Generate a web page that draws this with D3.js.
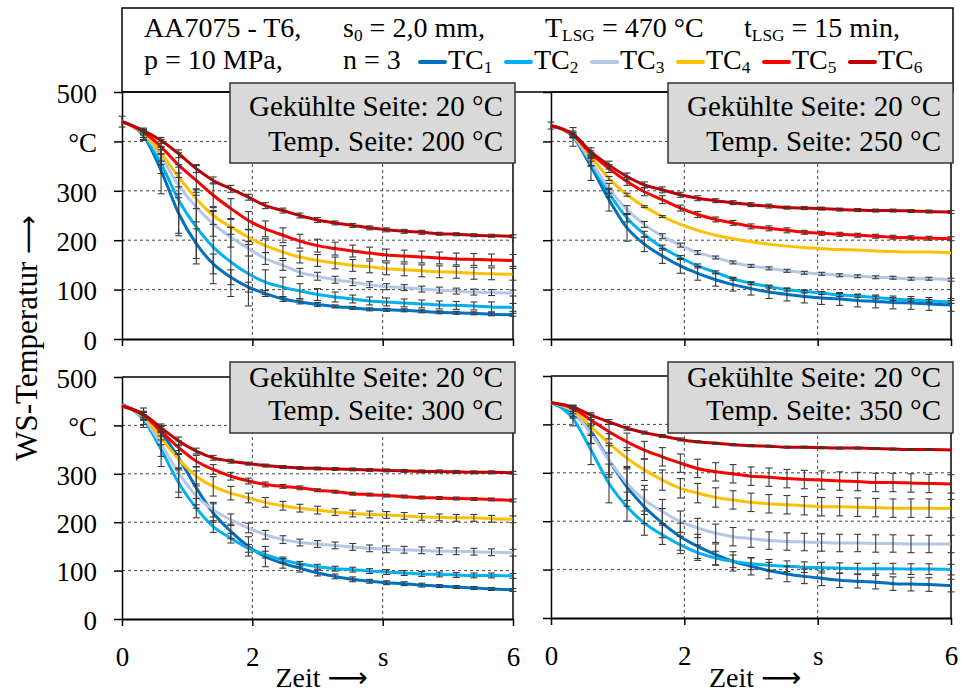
<!DOCTYPE html>
<html>
<head>
<meta charset="utf-8">
<script src="https://cdn.jsdelivr.net/npm/d3@7"></script>
<style>
  body { margin: 0; background: #fff; }
  svg { display: block; }
  text { font-family: "Liberation Serif", "DejaVu Serif", serif; fill: #000; }
</style>
</head>
<body>
<svg id="chart" width="963" height="693"></svg>
<script>
// Measurement times (s) shared by all thermocouple series
const times = [0, 0.33, 0.60, 0.87, 1.14, 1.40, 1.67, 1.94, 2.20, 2.47, 2.73, 3.00,
               3.27, 3.54, 3.80, 4.06, 4.33, 4.60, 4.87, 5.13, 5.40, 5.67, 6.00];

const seriesNames = ["TC1", "TC2", "TC3", "TC4", "TC5", "TC6"];
const seriesColors = ["#0070c0", "#00b0f0", "#b4c7e7", "#ffc000", "#ff0000", "#c00000"];

// Temperature of the tempered side for each panel (°C)
const tempSides = [200, 250, 300, 350];

const yTickValues = [0, 100, 200, 300, 400, 500];
const yTickLabels = ["0", "100", "200", "300", "°C", "500"];
const xTickValues = [0, 2, 4, 6];
const xTickLabels = ["0", "2", "s", "6"];

// Mean sheet temperatures (°C), one row per thermocouple TC1..TC6
const mean200 = [
  [440, 412, 341, 254, 193, 152, 125, 105, 92, 81, 75, 70, 66, 63, 60, 59, 58, 56, 54, 53, 52, 50, 49],
  [440, 412, 355, 281, 227, 186, 156, 132, 115, 105, 97, 90, 85, 81, 77, 75, 73, 71, 69, 68, 67, 65, 64],
  [440, 416, 368, 311, 267, 233, 206, 183, 163, 149, 135, 127, 120, 115, 110, 106, 104, 101, 99, 97, 95, 94, 93],
  [440, 416, 375, 328, 284, 250, 227, 206, 189, 176, 166, 159, 154, 149, 146, 142, 140, 138, 136, 135, 133, 132, 131],
  [440, 419, 389, 352, 321, 291, 264, 240, 223, 210, 198, 189, 183, 178, 174, 170, 168, 166, 164, 162, 161, 160, 159],
  [440, 422, 402, 375, 345, 321, 304, 287, 270, 260, 250, 241, 235, 230, 225, 221, 218, 216, 213, 212, 210, 209, 208]
];
const err200 = [
  [0, 8, 47, 40, 30, 20, 15, 10, 6, 5, 4, 4, 3, 3, 3, 3, 3, 3, 3, 3, 3, 3, 3],
  [0, 10, 20, 72, 75, 74, 70, 65, 25, 20, 15, 12, 10, 8, 8, 8, 8, 8, 8, 8, 8, 10, 8],
  [0, 8, 15, 25, 30, 25, 20, 15, 12, 10, 8, 8, 7, 7, 6, 6, 6, 6, 6, 6, 6, 6, 6],
  [0, 8, 15, 20, 20, 18, 15, 15, 14, 13, 12, 12, 12, 12, 12, 12, 12, 12, 12, 12, 12, 12, 12],
  [0, 6, 15, 25, 30, 25, 20, 18, 16, 15, 14, 13, 13, 12, 12, 12, 12, 12, 12, 12, 12, 12, 12],
  [11, 5, 6, 8, 8, 7, 7, 6, 6, 5, 5, 5, 4, 4, 4, 4, 4, 4, 3, 3, 3, 3, 3]
];

const mean250 = [
  [432, 409, 349, 282, 225, 192, 168, 148, 133, 120, 110, 102, 95, 90, 86, 83, 81, 78, 76, 74, 73, 71, 69],
  [432, 410, 355, 295, 245, 212, 185, 165, 148, 135, 122, 113, 106, 100, 96, 93, 89, 87, 84, 81, 79, 77, 75],
  [432, 411, 359, 305, 262, 232, 208, 190, 175, 165, 155, 148, 143, 138, 134, 132, 129, 127, 125, 124, 122, 122, 120],
  [432, 412, 369, 325, 292, 268, 248, 232, 220, 210, 203, 197, 192, 188, 185, 183, 181, 180, 178, 177, 176, 176, 174],
  [432, 413, 375, 345, 319, 298, 282, 265, 252, 242, 235, 228, 224, 220, 216, 214, 212, 210, 208, 206, 205, 204, 203],
  [432, 415, 379, 352, 329, 312, 302, 292, 285, 280, 276, 272, 269, 266, 265, 264, 262, 261, 260, 260, 259, 258, 257]
];
const err250 = [
  [0, 19, 28, 23, 27, 15, 15, 15, 14, 13, 13, 13, 13, 13, 13, 13, 13, 13, 13, 13, 13, 13, 13],
  [0, 3, 5, 8, 8, 6, 5, 4, 4, 3, 3, 3, 3, 3, 3, 3, 3, 3, 3, 3, 3, 3, 3],
  [0, 3, 8, 10, 8, 6, 5, 4, 4, 3, 3, 3, 3, 3, 3, 3, 3, 3, 3, 3, 3, 3, 3],
  [0, 3, 4, 4, 3, 2, 2, 0, 0, 0, 0, 0, 0, 0, 0, 0, 0, 0, 0, 0, 0, 0, 0],
  [0, 5, 6, 8, 8, 8, 8, 6, 6, 5, 5, 5, 5, 5, 4, 4, 4, 4, 4, 4, 4, 4, 4],
  [7, 6, 8, 8, 7, 6, 6, 5, 5, 4, 4, 4, 4, 3, 3, 3, 3, 3, 3, 3, 3, 3, 3]
];

const mean300 = [
  [444, 419, 385, 333, 271, 219, 181, 150, 129, 115, 105, 95, 88, 82, 78, 75, 73, 70, 68, 66, 64, 62, 60],
  [442, 412, 350, 281, 229, 191, 167, 146, 133, 122, 114, 108, 104, 102, 99, 97, 95, 93, 92, 91, 90, 90, 89],
  [442, 416, 361, 302, 254, 226, 205, 188, 174, 164, 158, 155, 152, 149, 146, 144, 143, 142, 140, 140, 139, 138, 137],
  [440, 419, 374, 330, 295, 274, 260, 250, 241, 234, 229, 225, 221, 218, 216, 215, 213, 211, 210, 209, 209, 207, 206],
  [440, 421, 388, 354, 326, 309, 295, 285, 278, 274, 271, 266, 263, 259, 257, 255, 253, 251, 250, 249, 248, 247, 245],
  [440, 423, 395, 368, 347, 333, 326, 321, 317, 314, 312, 311, 310, 309, 308, 307, 306, 305, 305, 304, 303, 303, 302]
];
const err300 = [
  [0, 8, 15, 25, 35, 19, 15, 20, 21, 10, 8, 6, 5, 5, 4, 4, 4, 4, 3, 3, 3, 3, 3],
  [0, 10, 35, 30, 20, 12, 10, 8, 7, 6, 5, 5, 5, 5, 5, 5, 5, 5, 5, 5, 5, 5, 5],
  [0, 20, 25, 40, 25, 15, 12, 10, 9, 8, 7, 7, 7, 7, 7, 7, 7, 7, 7, 7, 7, 7, 7],
  [0, 8, 14, 18, 20, 20, 14, 10, 10, 9, 8, 8, 7, 7, 7, 7, 7, 7, 7, 7, 7, 7, 7],
  [0, 8, 10, 14, 12, 10, 8, 6, 5, 4, 4, 3, 3, 3, 3, 3, 3, 3, 3, 3, 3, 3, 3],
  [0, 6, 8, 8, 6, 5, 4, 3, 3, 3, 3, 3, 3, 3, 3, 3, 3, 3, 3, 3, 3, 3, 3]
];

const mean350 = [
  [445, 423, 385, 326, 271, 230, 196, 168, 148, 131, 117, 107, 98, 91, 86, 82, 78, 76, 74, 71, 70, 69, 67],
  [445, 412, 347, 278, 230, 196, 172, 151, 135, 124, 117, 112, 109, 107, 105, 104, 103, 102, 102, 102, 101, 101, 100],
  [445, 426, 381, 326, 278, 244, 220, 199, 186, 175, 168, 164, 160, 158, 157, 156, 155, 155, 154, 154, 153, 153, 153],
  [445, 430, 395, 361, 330, 306, 285, 268, 258, 249, 244, 239, 236, 234, 232, 230, 230, 229, 228, 227, 227, 227, 226],
  [445, 433, 409, 385, 364, 347, 333, 320, 309, 302, 298, 293, 291, 288, 286, 285, 283, 282, 280, 280, 279, 278, 277],
  [445, 436, 419, 405, 392, 383, 376, 369, 364, 361, 358, 356, 355, 353, 353, 352, 351, 351, 350, 349, 348, 348, 347]
];
const err350 = [
  [0, 10, 25, 35, 40, 35, 30, 28, 25, 22, 20, 18, 17, 16, 15, 15, 15, 14, 14, 14, 14, 14, 13],
  [0, 15, 30, 40, 30, 25, 20, 18, 16, 14, 13, 12, 12, 11, 11, 11, 11, 11, 11, 11, 11, 11, 11],
  [0, 10, 20, 30, 35, 30, 25, 22, 20, 19, 19, 18, 18, 18, 18, 18, 18, 18, 18, 18, 18, 18, 18],
  [0, 8, 15, 20, 22, 22, 21, 20, 20, 20, 19, 19, 19, 19, 19, 19, 19, 19, 19, 19, 19, 19, 19],
  [0, 6, 12, 15, 18, 18, 19, 19, 19, 19, 19, 19, 19, 19, 19, 19, 19, 19, 19, 19, 19, 19, 19],
  [0, 4, 5, 5, 4, 3, 3, 3, 2, 2, 2, 2, 2, 2, 2, 2, 2, 2, 2, 2, 2, 2, 0]
];

const svg = d3.select("#chart");

// Panel frames: 2 x 2 grid
const panels = [
  { x0: 122, x1: 513, top: 92,  bottom: 339, means: mean200, errs: err200, temp: tempSides[0], yLabels: true,  xLabels: false, box: [230, 83, 285, 80] },
  { x0: 551, x1: 951, top: 92,  bottom: 339, means: mean250, errs: err250, temp: tempSides[1], yLabels: false, xLabels: false, box: [668, 83, 285, 80] },
  { x0: 122, x1: 513, top: 377, bottom: 619, means: mean300, errs: err300, temp: tempSides[2], yLabels: true,  xLabels: true,  box: [230, 362, 285, 71] },
  { x0: 551, x1: 951, top: 376, bottom: 618, means: mean350, errs: err350, temp: tempSides[3], yLabels: false, xLabels: true,  box: [668, 362, 285, 71] }
];

// Header box with test parameters and legend
const header = svg.append("g");
header.append("rect").attr("x", 122).attr("y", 8).attr("width", 831).attr("height", 84)
  .attr("fill", "#fff").attr("stroke", "#000").attr("stroke-width", 1.5);

// text with optional subscript parts (given as one-element arrays)
function addText(g, x, y, parts, size) {
  const t = g.append("text").attr("x", x).attr("y", y).attr("font-size", size);
  let shifted = false;
  parts.forEach(p => {
    const sub = Array.isArray(p);
    const s = t.append("tspan").text(sub ? p[0] : p);
    if (sub && !shifted) { s.attr("dy", 4).attr("font-size", size * 0.62); shifted = true; }
    else if (!sub && shifted) { s.attr("dy", -4); shifted = false; }
    else if (sub) { s.attr("font-size", size * 0.62); }
  });
  return t;
}

const hs = 28;
addText(header, 144, 37, ["AA7075 - T6,"], hs);
addText(header, 343, 37, ["s", ["0"], " = 2,0 mm,"], hs);
addText(header, 545, 37, ["T", ["LSG"], " = 470 °C"], hs);
addText(header, 744, 37, ["t", ["LSG"], " = 15 min,"], hs);
addText(header, 144, 69, ["p = 10 MPa,"], hs);
addText(header, 343, 69, ["n = 3"], hs);

const legend = header.selectAll("g.legend-item").data(seriesNames).join("g")
  .attr("class", "legend-item")
  .attr("transform", (d, i) => `translate(${420 + i * 86},0)`);
legend.append("line").attr("x1", 0).attr("x2", 25).attr("y1", 62).attr("y2", 62)
  .attr("stroke", (d, i) => seriesColors[i]).attr("stroke-width", 4).attr("stroke-linecap", "round");
legend.each(function (d) {
  addText(d3.select(this), 28, 69, ["TC", [d.slice(2)]], hs);
});

// Draw the four panels
panels.forEach(p => {
  const x = d3.scaleLinear().domain([0, 6]).range([p.x0, p.x1]);
  const y = d3.scaleLinear().domain([0, 500]).range([p.bottom, p.top]);
  const g = svg.append("g");

  // dashed grid
  g.selectAll("line.hgrid").data([100, 200, 300, 400]).join("line")
    .attr("x1", p.x0).attr("x2", p.x1).attr("y1", d => y(d)).attr("y2", d => y(d))
    .attr("stroke", "#444").attr("stroke-width", 1).attr("stroke-dasharray", "3,3");
  g.selectAll("line.vgrid").data([2, 4]).join("line")
    .attr("x1", d => x(d)).attr("x2", d => x(d)).attr("y1", p.top).attr("y2", p.bottom)
    .attr("stroke", "#444").attr("stroke-width", 1).attr("stroke-dasharray", "3,3");

  // frame: top and right
  g.append("line").attr("x1", p.x0).attr("x2", p.x1).attr("y1", y(500)).attr("y2", y(500))
    .attr("stroke", "#000").attr("stroke-width", 1.5);
  g.append("line").attr("x1", p.x1).attr("x2", p.x1).attr("y1", y(500)).attr("y2", y(0))
    .attr("stroke", "#000").attr("stroke-width", 1.5);

  // axes
  const yAxis = d3.axisLeft(y).tickValues(yTickValues).tickSize(8).tickSizeOuter(0).tickPadding(17)
    .tickFormat((d, i) => p.yLabels ? yTickLabels[i] : "");
  const ya = g.append("g").attr("transform", `translate(${p.x0},0)`).call(yAxis);
  ya.selectAll("path,line").attr("stroke", "#000").attr("stroke-width", 1.5);
  ya.selectAll("text").attr("font-size", 27).attr("font-family", "Liberation Serif").attr("fill", "#000")
    .attr("dy", "0.38em");

  const xAxis = d3.axisBottom(x).tickValues(xTickValues).tickSize(7).tickSizeOuter(0).tickPadding(21)
    .tickFormat((d, i) => p.xLabels ? xTickLabels[i] : "");
  const xa = g.append("g").attr("transform", `translate(0,${p.bottom})`).call(xAxis);
  xa.selectAll("line").attr("stroke", "#000").attr("stroke-width", 1.5);
  xa.select("path").attr("stroke", "#000").attr("stroke-width", 2.2);
  xa.selectAll("text").attr("font-size", 27).attr("font-family", "Liberation Serif").attr("fill", "#000");

  // temperature curves
  const line = d3.line().x((d, i) => x(times[i])).y(d => y(d)).curve(d3.curveMonotoneX);
  g.selectAll("path.curve").data(p.means).join("path")
    .attr("class", "curve")
    .attr("d", line)
    .attr("fill", "none")
    .attr("stroke", (d, i) => seriesColors[i])
    .attr("stroke-width", 3);

  // error bars (± standard deviation)
  const bars = [];
  p.means.forEach((m, s) => m.forEach((v, i) => {
    const e = p.errs[s][i];
    if (e > 0) bars.push({ t: times[i], v, e });
  }));
  const eb = g.append("g").attr("stroke", "#3a3a3a").attr("stroke-width", 1.1);
  eb.selectAll("line.stem").data(bars).join("line")
    .attr("x1", d => x(d.t)).attr("x2", d => x(d.t))
    .attr("y1", d => y(d.v - d.e)).attr("y2", d => y(d.v + d.e));
  eb.selectAll("line.capLo").data(bars).join("line")
    .attr("x1", d => x(d.t) - 3.5).attr("x2", d => x(d.t) + 3.5)
    .attr("y1", d => y(d.v - d.e)).attr("y2", d => y(d.v - d.e));
  eb.selectAll("line.capHi").data(bars).join("line")
    .attr("x1", d => x(d.t) - 3.5).attr("x2", d => x(d.t) + 3.5)
    .attr("y1", d => y(d.v + d.e)).attr("y2", d => y(d.v + d.e));

  // condition box
  const [bx, by, bw, bh] = p.box;
  g.append("rect").attr("x", bx).attr("y", by).attr("width", bw).attr("height", bh)
    .attr("fill", "#d9d9d9").attr("stroke", "#333").attr("stroke-width", 1.5);
  const tx = bx + bw - 12;
  const l1 = p.bottom > 400 ? by + 25 : by + 33;
  const l2 = p.bottom > 400 ? by + 58 : by + 68;
  g.append("text").attr("x", tx).attr("y", l1).attr("text-anchor", "end").attr("font-size", 29)
    .text("Gekühlte Seite: 20 °C");
  g.append("text").attr("x", tx).attr("y", l2).attr("text-anchor", "end").attr("font-size", 29)
    .text(`Temp. Seite: ${p.temp} °C`);

  // time axis title for the lower panels
  if (p.xLabels) {
    const cx = (p.x0 + p.x1) / 2;
    const tt = g.append("text").attr("x", cx + 4).attr("y", 687).attr("text-anchor", "middle").attr("font-size", 28);
    tt.append("tspan").text("Zeit ");
    tt.append("tspan").attr("font-family", "DejaVu Sans").attr("font-size", 28).text("⟶");
  }
});

// temperature axis title
const yt = svg.append("text").attr("transform", "translate(37,338) rotate(-90)")
  .attr("text-anchor", "middle").attr("font-size", 31);
yt.append("tspan").text("WS-Temperatur ");
yt.append("tspan").attr("font-family", "DejaVu Sans").attr("font-size", 27).text("⟶");
</script>
</body>
</html>
